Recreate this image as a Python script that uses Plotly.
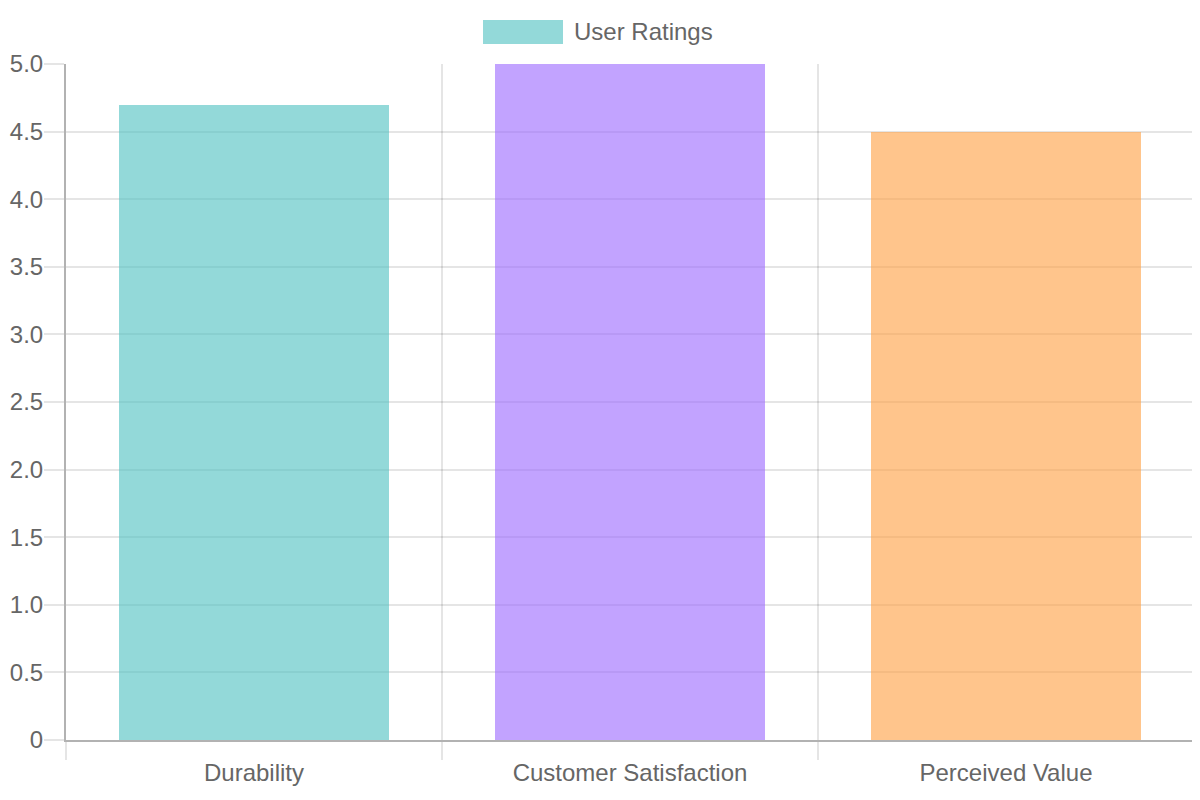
import plotly.graph_objects as go

categories = ["Durability", "Customer Satisfaction", "Perceived Value"]
ratings = [4.7, 5.0, 4.5]
bar_colors = ["rgba(75,192,192,0.6)", "rgba(153,102,255,0.6)", "rgba(255,159,64,0.6)"]
series_name = "User Ratings"
y_tickvals = [0, 0.5, 1, 1.5, 2, 2.5, 3, 3.5, 4, 4.5, 5]
y_ticktext = ["0", "0.5", "1.0", "1.5", "2.0", "2.5", "3.0", "3.5", "4.0", "4.5", "5.0"]

FONT = "Liberation Sans, Arial, sans-serif"
TXT = "#666666"
GRID = "rgba(0,0,0,0.1)"
AXIS = "rgba(0,0,0,0.3)"

# page shows the figure offset by 8px (body margin)
OFF = 8
W, H = 1200, 800
ML, MT = 66 - OFF, 64 - OFF
MR = W - (1194 - OFF)
MB = H - (740 - OFF)
PW, PH = W - ML - MR, H - MT - MB

fig = go.Figure()
fig.add_trace(go.Bar(
    x=list(range(len(categories))), y=ratings, width=0.72,
    marker=dict(color=bar_colors, line=dict(width=0)),
    name=series_name, showlegend=False, hoverinfo="x+y",
))

def px_x(p):
    return (p - OFF - ML) / PW

def px_y(p):
    return (H - MB - (p - OFF)) / PH

fig.add_shape(type="rect", xref="paper", yref="paper",
              x0=px_x(483), x1=px_x(563), y0=px_y(44), y1=px_y(20),
              fillcolor=bar_colors[0], line=dict(width=0))
fig.add_annotation(xref="paper", yref="paper", x=px_x(572), y=px_y(32),
                   xanchor="left", yanchor="middle", text=series_name, showarrow=False,
                   font=dict(family=FONT, size=24, color=TXT))

fig.update_layout(
    width=W, height=H, autosize=False,
    margin=dict(l=ML, r=MR, t=MT, b=MB, pad=0, autoexpand=False),
    plot_bgcolor="white", paper_bgcolor="white",
    font=dict(family=FONT, size=24, color=TXT),
    bargap=0,
    xaxis=dict(
        range=[-0.5, len(categories) - 0.5],
        tickvals=list(range(len(categories))), ticktext=categories,
        showgrid=False, ticks="", zeroline=False,
        showline=True, linecolor=AXIS, linewidth=2,
        tickfont=dict(family=FONT, size=24, color=TXT),
        ticklabelstandoff=10, automargin=False,
        minor=dict(tick0=-0.5, dtick=1, showgrid=True, gridcolor=GRID, gridwidth=1.5,
                   ticks="outside", ticklen=18, tickcolor=GRID, tickwidth=1.5),
        fixedrange=True,
    ),
    yaxis=dict(
        range=[0, 5], tickvals=y_tickvals, ticktext=y_ticktext,
        showgrid=True, gridcolor=GRID, gridwidth=1.5, zeroline=False,
        showline=True, linecolor=AXIS, linewidth=2,
        ticks="outside", ticklen=20, tickcolor=GRID, tickwidth=1.5,
        tickfont=dict(family=FONT, size=24, color=TXT),
        automargin=False,
        fixedrange=True,
    ),
)

try:
    fig.update_yaxes(ticklabelstandoff=-4)
except Exception:
    fig.update_yaxes(ticklen=16, ticklabelstandoff=0)

fig.write_html("out.html")
